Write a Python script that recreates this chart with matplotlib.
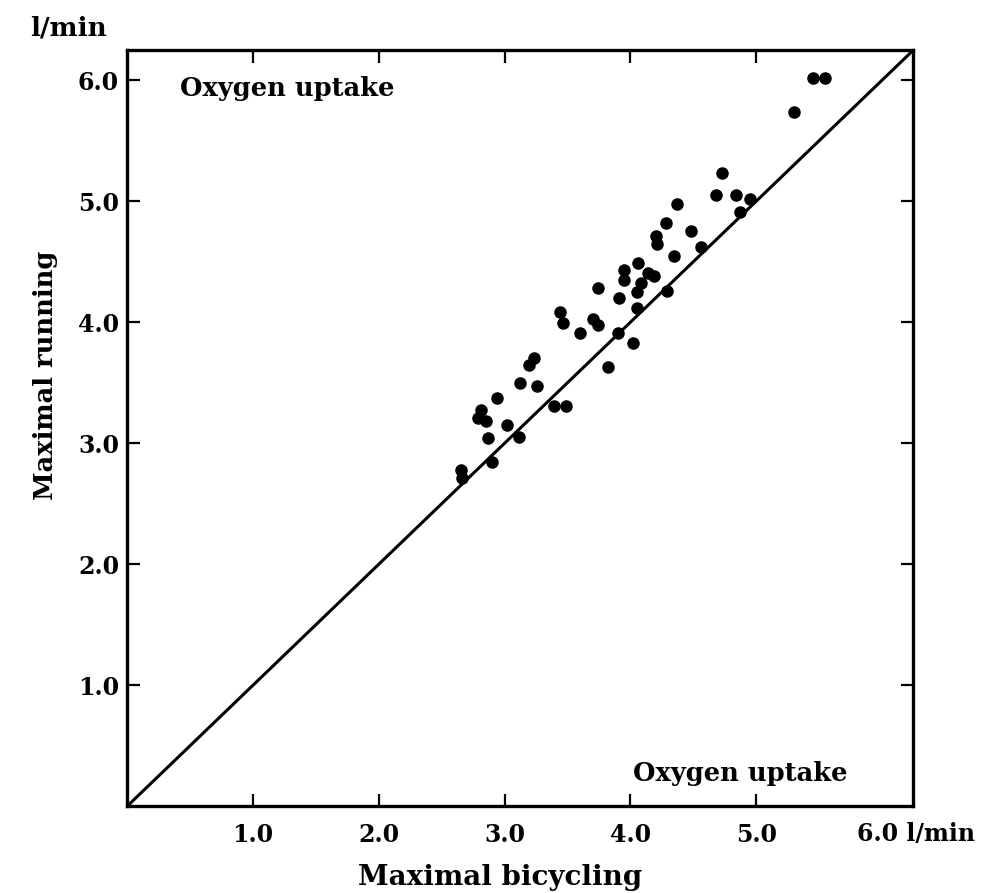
import matplotlib.pyplot as plt

# maximal oxygen uptake, l/min
velo = [2.65, 2.66, 2.90, 2.81, 2.79, 2.85, 2.87, 3.02, 3.11, 2.94,
        3.12, 3.26, 3.39, 3.49, 3.23, 3.19, 3.44, 3.46, 3.60, 3.70,
        3.74, 3.82, 3.90, 4.02, 3.74, 3.91, 4.05, 3.95, 3.95, 4.06,
        4.14, 4.19, 4.08, 4.05, 4.29, 4.35, 4.20, 4.21, 4.48, 4.56,
        4.28, 4.37, 4.87, 4.68, 4.84, 4.95, 4.73, 5.30, 5.45, 5.55]
course = [2.78, 2.71, 2.84, 3.27, 3.21, 3.18, 3.04, 3.15, 3.05, 3.37,
          3.50, 3.47, 3.31, 3.31, 3.70, 3.65, 4.08, 3.99, 3.91, 4.03,
          3.98, 3.63, 3.91, 3.83, 4.28, 4.20, 4.12, 4.43, 4.35, 4.49,
          4.41, 4.38, 4.32, 4.25, 4.26, 4.55, 4.71, 4.65, 4.75, 4.62,
          4.82, 4.98, 4.91, 5.05, 5.05, 5.02, 5.23, 5.74, 6.02, 6.02]

ticks = [1.0, 2.0, 3.0, 4.0, 5.0]
yticks = [1.0, 2.0, 3.0, 4.0, 5.0, 6.0]
vmax = 6.25

plt.rcParams['font.family'] = 'DejaVu Serif'
plt.rcParams['font.weight'] = 'bold'

fig = plt.figure(figsize=(10.03, 8.93), dpi=100)
axes = fig.add_axes([0.127, 0.0974, 0.7837, 0.8466])

# droite y = x
axes.plot([0, vmax], [0, vmax], color='black', linewidth=2.2)
axes.plot(velo, course, 'o', color='black', markersize=8)

axes.set_xlim(0, vmax)
axes.set_ylim(0, vmax)
axes.set_xticks(ticks)
axes.set_xticklabels(['%.1f' % t for t in ticks])
axes.set_yticks(yticks)
axes.set_yticklabels(['%.1f' % t for t in yticks])
axes.tick_params(direction='in', length=9, width=1.6, labelsize=17,
                 top=True, right=True)
axes.tick_params(axis='x', pad=12)
axes.tick_params(axis='y', pad=6)
for s in axes.spines.values():
    s.set_linewidth(2.4)

axes.text(0.42, 5.93, 'Oxygen uptake', fontsize=18.5, fontweight='bold', va='center')
axes.text(4.02, 0.27, 'Oxygen uptake', fontsize=18.5, fontweight='bold', va='center')
axes.text(5.8, -0.23, '6.0 l/min', fontsize=17, fontweight='bold', va='center',
          ha='left', clip_on=False)
axes.text(0.4746, -0.095, 'Maximal bicycling', transform=axes.transAxes,
          fontsize=20, fontweight='bold', ha='center', va='center')
axes.text(-0.104, 0.57, 'Maximal running', transform=axes.transAxes,
          fontsize=18.5, fontweight='bold', ha='center', va='center', rotation=90)
fig.text(30 / 1003, 1 - 28 / 893, 'l/min', fontsize=19, fontweight='bold',
         ha='left', va='center')

plt.savefig('out.png', dpi=100)
